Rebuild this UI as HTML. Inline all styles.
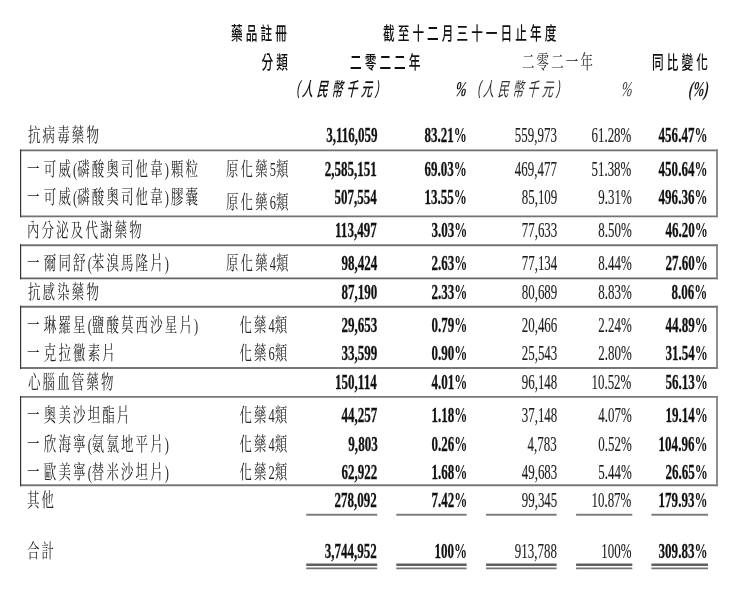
<!DOCTYPE html><html><head><meta charset="utf-8"><style>
html,body{margin:0;padding:0;background:#fff;}
body{width:733px;height:606px;position:relative;overflow:hidden;}
.t{position:absolute;white-space:nowrap;line-height:0;height:0;}
.n{letter-spacing:0;}
.pi{position:relative;top:-1.80px;}
.cp{letter-spacing:3.20px;}
.d{letter-spacing:6.90px;}
.op{letter-spacing:2.50px;}
.pc{font-weight:700;-webkit-text-stroke:0;}
.nb{-webkit-text-stroke:0.30px currentColor;}
.nr{-webkit-text-stroke:0.15px currentColor;}
.ln{position:absolute;background:#444;}
.lab{font-family:"Liberation Serif", "Noto Serif CJK TC", "Noto Serif CJK SC", serif;font-weight:400;font-style:normal;font-size:19.80px;letter-spacing:3.40px;color:#282828;}
.nb{font-family:"Liberation Serif", "Noto Serif CJK TC", "Noto Serif CJK SC", serif;font-weight:700;font-style:normal;font-size:21.20px;letter-spacing:0.00px;color:#111;}
.nr{font-family:"Liberation Serif", "Noto Serif CJK TC", "Noto Serif CJK SC", serif;font-weight:400;font-style:normal;font-size:21.20px;letter-spacing:0.00px;color:#1e1e1e;}
.hb{font-family:"Liberation Sans", "Noto Sans CJK TC", "Noto Sans CJK SC", sans-serif;font-weight:500;font-style:normal;font-size:18.60px;letter-spacing:4.88px;color:#111;}
.hr{font-family:"Liberation Sans", "Noto Sans CJK TC", "Noto Sans CJK SC", sans-serif;font-weight:300;font-style:normal;font-size:18.60px;letter-spacing:4.88px;color:#333;}
.ib{font-family:"Liberation Sans", "Noto Sans CJK TC", "Noto Sans CJK SC", sans-serif;font-weight:500;font-style:oblique;font-size:19.10px;letter-spacing:6.40px;color:#111;}
.ir{font-family:"Liberation Sans", "Noto Sans CJK TC", "Noto Sans CJK SC", sans-serif;font-weight:400;font-style:oblique;font-size:19.10px;letter-spacing:6.40px;color:#333;}
.pb{font-family:"Liberation Serif", "Noto Serif CJK TC", "Noto Serif CJK SC", serif;font-weight:700;font-style:italic;font-size:21.20px;letter-spacing:0.00px;color:#111;}
.pr{font-family:"Liberation Serif", "Noto Serif CJK TC", "Noto Serif CJK SC", serif;font-weight:400;font-style:italic;font-size:21.20px;letter-spacing:0.00px;color:#333;}
</style></head><body>
<div class="t lab" style="top:135.11px;left:27.55px;transform-origin:0 0;transform:scaleX(0.6300)">抗病毒藥物</div>
<div class="t nb" style="top:135.11px;right:355.83px;transform-origin:100% 0;transform:scaleX(0.6150)">3,116,059</div>
<div class="t nb" style="top:135.11px;right:265.73px;transform-origin:100% 0;transform:scaleX(0.6150)">83.21<span class="pc">%</span></div>
<div class="t nr" style="top:135.11px;right:176.19px;transform-origin:100% 0;transform:scaleX(0.6100)">559,973</div>
<div class="t nr" style="top:135.11px;right:101.19px;transform-origin:100% 0;transform:scaleX(0.6100)">61.28%</div>
<div class="t nb" style="top:135.11px;right:25.49px;transform-origin:100% 0;transform:scaleX(0.6150)">456.47<span class="pc">%</span></div>
<div class="t lab" style="top:169.21px;left:26.64px;transform-origin:0 0;transform:scaleX(0.6300)"><span class="d">一</span>可威<span class="n">(</span>磷酸奧司他韋<span class="cp">)</span>顆粒</div>
<div class="t lab" style="top:169.21px;right:442.65px;transform-origin:100% 0;transform:scaleX(0.6300)">原化藥<span class="n">5</span>類</div>
<div class="t nb" style="top:169.21px;right:355.83px;transform-origin:100% 0;transform:scaleX(0.6150)">2,585,151</div>
<div class="t nb" style="top:169.21px;right:265.73px;transform-origin:100% 0;transform:scaleX(0.6150)">69.03<span class="pc">%</span></div>
<div class="t nr" style="top:169.21px;right:176.19px;transform-origin:100% 0;transform:scaleX(0.6100)">469,477</div>
<div class="t nr" style="top:169.21px;right:101.19px;transform-origin:100% 0;transform:scaleX(0.6100)">51.38%</div>
<div class="t nb" style="top:169.21px;right:25.49px;transform-origin:100% 0;transform:scaleX(0.6150)">450.64<span class="pc">%</span></div>
<div class="t lab" style="top:197.31px;left:26.64px;transform-origin:0 0;transform:scaleX(0.6300)"><span class="d">一</span>可威<span class="n">(</span>磷酸奧司他韋<span class="cp">)</span>膠囊</div>
<div class="t lab" style="top:201.81px;right:442.65px;transform-origin:100% 0;transform:scaleX(0.6300)">原化藥<span class="n">6</span>類</div>
<div class="t nb" style="top:197.31px;right:355.83px;transform-origin:100% 0;transform:scaleX(0.6150)">507,554</div>
<div class="t nb" style="top:197.31px;right:265.73px;transform-origin:100% 0;transform:scaleX(0.6150)">13.55<span class="pc">%</span></div>
<div class="t nr" style="top:197.31px;right:176.19px;transform-origin:100% 0;transform:scaleX(0.6100)">85,109</div>
<div class="t nr" style="top:197.31px;right:101.19px;transform-origin:100% 0;transform:scaleX(0.6100)">9.31%</div>
<div class="t nb" style="top:197.31px;right:25.49px;transform-origin:100% 0;transform:scaleX(0.6150)">496.36<span class="pc">%</span></div>
<div class="t lab" style="top:229.91px;left:27.24px;transform-origin:0 0;transform:scaleX(0.6300)">內分泌及代謝藥物</div>
<div class="t nb" style="top:229.91px;right:355.83px;transform-origin:100% 0;transform:scaleX(0.6150)">113,497</div>
<div class="t nb" style="top:229.91px;right:265.73px;transform-origin:100% 0;transform:scaleX(0.6150)">3.03<span class="pc">%</span></div>
<div class="t nr" style="top:229.91px;right:176.19px;transform-origin:100% 0;transform:scaleX(0.6100)">77,633</div>
<div class="t nr" style="top:229.91px;right:101.19px;transform-origin:100% 0;transform:scaleX(0.6100)">8.50%</div>
<div class="t nb" style="top:229.91px;right:25.49px;transform-origin:100% 0;transform:scaleX(0.6150)">46.20<span class="pc">%</span></div>
<div class="t lab" style="top:262.81px;left:26.64px;transform-origin:0 0;transform:scaleX(0.6300)"><span class="d">一</span>爾同舒<span class="n">(</span>苯溴馬隆片<span class="cp">)</span></div>
<div class="t lab" style="top:262.81px;right:442.65px;transform-origin:100% 0;transform:scaleX(0.6300)">原化藥<span class="n">4</span>類</div>
<div class="t nb" style="top:262.81px;right:355.83px;transform-origin:100% 0;transform:scaleX(0.6150)">98,424</div>
<div class="t nb" style="top:262.81px;right:265.73px;transform-origin:100% 0;transform:scaleX(0.6150)">2.63<span class="pc">%</span></div>
<div class="t nr" style="top:262.81px;right:176.19px;transform-origin:100% 0;transform:scaleX(0.6100)">77,134</div>
<div class="t nr" style="top:262.81px;right:101.19px;transform-origin:100% 0;transform:scaleX(0.6100)">8.44%</div>
<div class="t nb" style="top:262.81px;right:25.49px;transform-origin:100% 0;transform:scaleX(0.6150)">27.60<span class="pc">%</span></div>
<div class="t lab" style="top:292.01px;left:27.55px;transform-origin:0 0;transform:scaleX(0.6300)">抗感染藥物</div>
<div class="t nb" style="top:292.01px;right:355.83px;transform-origin:100% 0;transform:scaleX(0.6150)">87,190</div>
<div class="t nb" style="top:292.01px;right:265.73px;transform-origin:100% 0;transform:scaleX(0.6150)">2.33<span class="pc">%</span></div>
<div class="t nr" style="top:292.01px;right:176.19px;transform-origin:100% 0;transform:scaleX(0.6100)">80,689</div>
<div class="t nr" style="top:292.01px;right:101.19px;transform-origin:100% 0;transform:scaleX(0.6100)">8.83%</div>
<div class="t nb" style="top:292.01px;right:25.49px;transform-origin:100% 0;transform:scaleX(0.6150)">8.06<span class="pc">%</span></div>
<div class="t lab" style="top:325.21px;left:26.64px;transform-origin:0 0;transform:scaleX(0.6300)"><span class="d">一</span>琳羅星<span class="n">(</span>鹽酸莫西沙星片<span class="cp">)</span></div>
<div class="t lab" style="top:325.21px;right:443.53px;transform-origin:100% 0;transform:scaleX(0.6300)">化藥<span class="n">4</span>類</div>
<div class="t nb" style="top:325.21px;right:355.83px;transform-origin:100% 0;transform:scaleX(0.6150)">29,653</div>
<div class="t nb" style="top:325.21px;right:265.73px;transform-origin:100% 0;transform:scaleX(0.6150)">0.79<span class="pc">%</span></div>
<div class="t nr" style="top:325.21px;right:176.19px;transform-origin:100% 0;transform:scaleX(0.6100)">20,466</div>
<div class="t nr" style="top:325.21px;right:101.19px;transform-origin:100% 0;transform:scaleX(0.6100)">2.24%</div>
<div class="t nb" style="top:325.21px;right:25.49px;transform-origin:100% 0;transform:scaleX(0.6150)">44.89<span class="pc">%</span></div>
<div class="t lab" style="top:353.41px;left:26.64px;transform-origin:0 0;transform:scaleX(0.6300)"><span class="d">一</span>克拉黴素片</div>
<div class="t lab" style="top:353.41px;right:443.53px;transform-origin:100% 0;transform:scaleX(0.6300)">化藥<span class="n">6</span>類</div>
<div class="t nb" style="top:353.41px;right:355.83px;transform-origin:100% 0;transform:scaleX(0.6150)">33,599</div>
<div class="t nb" style="top:353.41px;right:265.73px;transform-origin:100% 0;transform:scaleX(0.6150)">0.90<span class="pc">%</span></div>
<div class="t nr" style="top:353.41px;right:176.19px;transform-origin:100% 0;transform:scaleX(0.6100)">25,543</div>
<div class="t nr" style="top:353.41px;right:101.19px;transform-origin:100% 0;transform:scaleX(0.6100)">2.80%</div>
<div class="t nb" style="top:353.41px;right:25.49px;transform-origin:100% 0;transform:scaleX(0.6150)">31.54<span class="pc">%</span></div>
<div class="t lab" style="top:382.21px;left:27.71px;transform-origin:0 0;transform:scaleX(0.6300)">心腦血管藥物</div>
<div class="t nb" style="top:382.21px;right:355.83px;transform-origin:100% 0;transform:scaleX(0.6150)">150,114</div>
<div class="t nb" style="top:382.21px;right:265.73px;transform-origin:100% 0;transform:scaleX(0.6150)">4.01<span class="pc">%</span></div>
<div class="t nr" style="top:382.21px;right:176.19px;transform-origin:100% 0;transform:scaleX(0.6100)">96,148</div>
<div class="t nr" style="top:382.21px;right:101.19px;transform-origin:100% 0;transform:scaleX(0.6100)">10.52%</div>
<div class="t nb" style="top:382.21px;right:25.49px;transform-origin:100% 0;transform:scaleX(0.6150)">56.13<span class="pc">%</span></div>
<div class="t lab" style="top:415.31px;left:26.64px;transform-origin:0 0;transform:scaleX(0.6300)"><span class="d">一</span>奧美沙坦酯片</div>
<div class="t lab" style="top:415.31px;right:443.53px;transform-origin:100% 0;transform:scaleX(0.6300)">化藥<span class="n">4</span>類</div>
<div class="t nb" style="top:415.31px;right:355.83px;transform-origin:100% 0;transform:scaleX(0.6150)">44,257</div>
<div class="t nb" style="top:415.31px;right:265.73px;transform-origin:100% 0;transform:scaleX(0.6150)">1.18<span class="pc">%</span></div>
<div class="t nr" style="top:415.31px;right:176.19px;transform-origin:100% 0;transform:scaleX(0.6100)">37,148</div>
<div class="t nr" style="top:415.31px;right:101.19px;transform-origin:100% 0;transform:scaleX(0.6100)">4.07%</div>
<div class="t nb" style="top:415.31px;right:25.49px;transform-origin:100% 0;transform:scaleX(0.6150)">19.14<span class="pc">%</span></div>
<div class="t lab" style="top:443.51px;left:26.64px;transform-origin:0 0;transform:scaleX(0.6300)"><span class="d">一</span>欣海寧<span class="n">(</span>氨氯地平片<span class="cp">)</span></div>
<div class="t lab" style="top:443.51px;right:443.53px;transform-origin:100% 0;transform:scaleX(0.6300)">化藥<span class="n">4</span>類</div>
<div class="t nb" style="top:443.51px;right:355.83px;transform-origin:100% 0;transform:scaleX(0.6150)">9,803</div>
<div class="t nb" style="top:443.51px;right:265.73px;transform-origin:100% 0;transform:scaleX(0.6150)">0.26<span class="pc">%</span></div>
<div class="t nr" style="top:443.51px;right:176.19px;transform-origin:100% 0;transform:scaleX(0.6100)">4,783</div>
<div class="t nr" style="top:443.51px;right:101.19px;transform-origin:100% 0;transform:scaleX(0.6100)">0.52%</div>
<div class="t nb" style="top:443.51px;right:25.49px;transform-origin:100% 0;transform:scaleX(0.6150)">104.96<span class="pc">%</span></div>
<div class="t lab" style="top:472.31px;left:26.64px;transform-origin:0 0;transform:scaleX(0.6300)"><span class="d">一</span>歐美寧<span class="n">(</span>替米沙坦片<span class="cp">)</span></div>
<div class="t lab" style="top:472.31px;right:443.53px;transform-origin:100% 0;transform:scaleX(0.6300)">化藥<span class="n">2</span>類</div>
<div class="t nb" style="top:472.31px;right:355.83px;transform-origin:100% 0;transform:scaleX(0.6150)">62,922</div>
<div class="t nb" style="top:472.31px;right:265.73px;transform-origin:100% 0;transform:scaleX(0.6150)">1.68<span class="pc">%</span></div>
<div class="t nr" style="top:472.31px;right:176.19px;transform-origin:100% 0;transform:scaleX(0.6100)">49,683</div>
<div class="t nr" style="top:472.31px;right:101.19px;transform-origin:100% 0;transform:scaleX(0.6100)">5.44%</div>
<div class="t nb" style="top:472.31px;right:25.49px;transform-origin:100% 0;transform:scaleX(0.6150)">26.65<span class="pc">%</span></div>
<div class="t lab" style="top:500.01px;left:27.21px;transform-origin:0 0;transform:scaleX(0.6300)">其他</div>
<div class="t nb" style="top:500.01px;right:355.83px;transform-origin:100% 0;transform:scaleX(0.6150)">278,092</div>
<div class="t nb" style="top:500.01px;right:265.73px;transform-origin:100% 0;transform:scaleX(0.6150)">7.42<span class="pc">%</span></div>
<div class="t nr" style="top:500.01px;right:176.19px;transform-origin:100% 0;transform:scaleX(0.6100)">99,345</div>
<div class="t nr" style="top:500.01px;right:101.19px;transform-origin:100% 0;transform:scaleX(0.6100)">10.87%</div>
<div class="t nb" style="top:500.01px;right:25.49px;transform-origin:100% 0;transform:scaleX(0.6150)">179.93<span class="pc">%</span></div>
<div class="t lab" style="top:550.61px;left:26.84px;transform-origin:0 0;transform:scaleX(0.6300)">合計</div>
<div class="t nb" style="top:550.61px;right:355.83px;transform-origin:100% 0;transform:scaleX(0.6150)">3,744,952</div>
<div class="t nb" style="top:550.61px;right:265.73px;transform-origin:100% 0;transform:scaleX(0.6150)">100<span class="pc">%</span></div>
<div class="t nr" style="top:550.61px;right:176.19px;transform-origin:100% 0;transform:scaleX(0.6100)">913,788</div>
<div class="t nr" style="top:550.61px;right:101.19px;transform-origin:100% 0;transform:scaleX(0.6100)">100%</div>
<div class="t nb" style="top:550.61px;right:25.49px;transform-origin:100% 0;transform:scaleX(0.6150)">309.83<span class="pc">%</span></div>
<div class="t hb" style="top:34.40px;right:442.79px;transform-origin:100% 0;transform:scaleX(0.6260)">藥品註冊</div>
<div class="t hb" style="top:34.40px;left:382.73px;transform-origin:0 0;transform:scaleX(0.6260)">截至十二月三十一日止年度</div>
<div class="t hb" style="top:62.60px;right:442.28px;transform-origin:100% 0;transform:scaleX(0.6260)">分類</div>
<div class="t hb" style="top:62.60px;left:350.47px;transform-origin:0 0;transform:scaleX(0.6260)">二零二二年</div>
<div class="t lab" style="top:61.61px;left:522.45px;transform-origin:0 0;transform:scaleX(0.6300)">二零二一年</div>
<div class="t hb" style="top:62.60px;right:22.05px;transform-origin:100% 0;transform:scaleX(0.6260)">同比變化</div>
<div class="t ib" style="top:90.40px;left:297.14px;transform-origin:0 0;transform:skewX(-4.0deg) scaleX(0.5800)"><span class="op pi">(</span>人民幣千元<span class="n pi">)</span></div>
<div class="t pb" style="top:89.40px;right:266.36px;transform-origin:100% 0;transform:scaleX(0.6200) skewX(-10.0deg)"><span class="pc">%</span></div>
<div class="t ir" style="top:90.40px;left:477.53px;transform-origin:0 0;transform:skewX(-4.0deg) scaleX(0.5800)"><span class="op pi">(</span>人民幣千元<span class="n pi">)</span></div>
<div class="t pr" style="top:89.40px;right:100.08px;transform-origin:100% 0;transform:scaleX(0.6200) skewX(-10.0deg)">%</div>
<div class="t pb" style="top:89.40px;right:24.61px;transform-origin:100% 0;transform:scaleX(0.6200) skewX(-10.0deg)">(<span class="pc">%</span>)</div>
<svg width="733" height="606" viewBox="0 0 733 606" style="position:absolute;left:0;top:0">
<line x1="20.00" y1="150.44" x2="717.90" y2="150.44" stroke="#6e6e6e" stroke-width="1.80"/>
<line x1="20.00" y1="216.37" x2="717.90" y2="216.37" stroke="#737373" stroke-width="1.80"/>
<line x1="20.00" y1="245.18" x2="717.90" y2="245.18" stroke="#737373" stroke-width="1.90"/>
<line x1="20.00" y1="278.47" x2="717.90" y2="278.47" stroke="#646464" stroke-width="1.80"/>
<line x1="20.00" y1="306.74" x2="717.90" y2="306.74" stroke="#6e6e6e" stroke-width="1.90"/>
<line x1="20.00" y1="368.00" x2="717.90" y2="368.00" stroke="#787878" stroke-width="1.90"/>
<line x1="20.00" y1="396.85" x2="717.90" y2="396.85" stroke="#787878" stroke-width="1.90"/>
<line x1="20.00" y1="485.20" x2="717.90" y2="485.20" stroke="#787878" stroke-width="1.90"/>
<line x1="20.60" y1="149.54" x2="20.60" y2="217.27" stroke="#373737" stroke-width="1.20"/>
<line x1="717.00" y1="149.54" x2="717.00" y2="217.27" stroke="#828282" stroke-width="1.80"/>
<line x1="20.60" y1="244.23" x2="20.60" y2="279.37" stroke="#373737" stroke-width="1.20"/>
<line x1="717.00" y1="244.23" x2="717.00" y2="279.37" stroke="#828282" stroke-width="1.80"/>
<line x1="20.60" y1="305.79" x2="20.60" y2="368.95" stroke="#373737" stroke-width="1.20"/>
<line x1="717.00" y1="305.79" x2="717.00" y2="368.95" stroke="#828282" stroke-width="1.80"/>
<line x1="20.60" y1="395.90" x2="20.60" y2="486.15" stroke="#373737" stroke-width="1.20"/>
<line x1="717.00" y1="395.90" x2="717.00" y2="486.15" stroke="#828282" stroke-width="1.80"/>
<line x1="306.20" y1="514.70" x2="377.20" y2="514.70" stroke="#7d7d7d" stroke-width="2.00"/>
<line x1="306.20" y1="564.85" x2="377.20" y2="564.85" stroke="#5f5f5f" stroke-width="2.50"/>
<line x1="306.20" y1="568.37" x2="377.20" y2="568.37" stroke="#737373" stroke-width="1.70"/>
<line x1="396.30" y1="514.70" x2="466.60" y2="514.70" stroke="#7d7d7d" stroke-width="2.00"/>
<line x1="396.30" y1="564.85" x2="466.60" y2="564.85" stroke="#5f5f5f" stroke-width="2.50"/>
<line x1="396.30" y1="568.37" x2="466.60" y2="568.37" stroke="#737373" stroke-width="1.70"/>
<line x1="486.10" y1="514.70" x2="556.60" y2="514.70" stroke="#7d7d7d" stroke-width="2.00"/>
<line x1="486.10" y1="564.85" x2="556.60" y2="564.85" stroke="#5f5f5f" stroke-width="2.50"/>
<line x1="486.10" y1="568.37" x2="556.60" y2="568.37" stroke="#737373" stroke-width="1.70"/>
<line x1="576.10" y1="514.70" x2="632.30" y2="514.70" stroke="#7d7d7d" stroke-width="2.00"/>
<line x1="576.10" y1="564.85" x2="632.30" y2="564.85" stroke="#5f5f5f" stroke-width="2.50"/>
<line x1="576.10" y1="568.37" x2="632.30" y2="568.37" stroke="#737373" stroke-width="1.70"/>
<line x1="651.40" y1="514.70" x2="708.00" y2="514.70" stroke="#7d7d7d" stroke-width="2.00"/>
<line x1="651.40" y1="564.85" x2="708.00" y2="564.85" stroke="#5f5f5f" stroke-width="2.50"/>
<line x1="651.40" y1="568.37" x2="708.00" y2="568.37" stroke="#737373" stroke-width="1.70"/>
</svg>
</body></html>
